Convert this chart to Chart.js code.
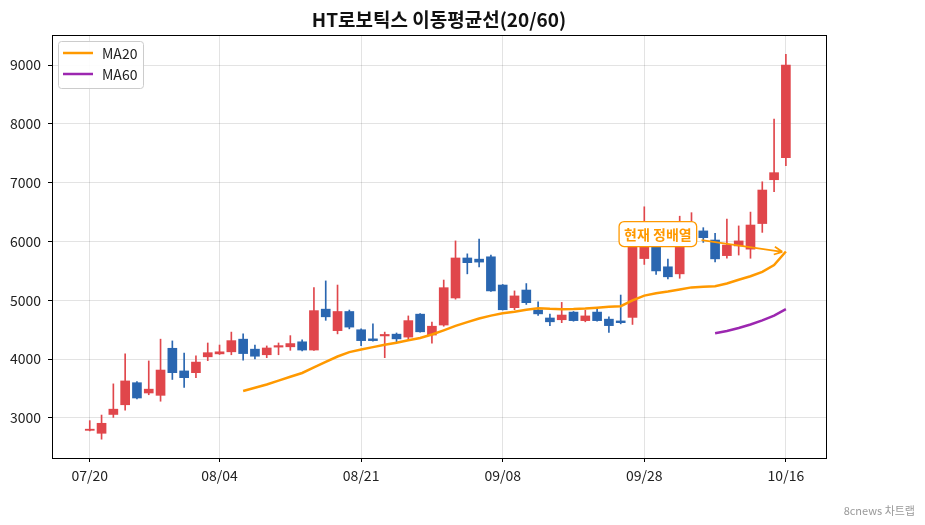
<!DOCTYPE html>
<html>
<head>
<meta charset="utf-8">
<script src="https://cdn.jsdelivr.net/npm/chart.js@4"></script>
<style>
  body { margin: 0; background: #fff; }
  #wrap { position: relative; width: 925px; height: 525px; }
  #credit { position: absolute; right: 10px; top: 502px; font: 11px "Noto Sans CJK KR", sans-serif; color: #999; }
</style>
</head>
<body>
<div id="wrap">
  <canvas id="chart" width="925" height="525"></canvas>
  <div id="credit">8cnews 차트랩</div>
</div>
<script>
const titleText = "HT로보틱스 이동평균선(20/60)";

// candles (one per trading day, index 0 = 07/20)
const opens  = [2790, 2740, 3060, 3225, 3600, 3425, 3385, 4185, 3800, 3770,
                4040, 4090, 4125, 4340, 4170, 4075, 4205, 4210, 4295, 4155,
                4850, 4485, 4810, 4500, 4345, 4395, 4425, 4375, 4765, 4410,
                4580, 5040, 5720, 5700, 5740, 5260, 4875, 5175, 4835, 4700,
                4670, 4800, 4655, 4800, 4680, 4650, 4710, 5710, 6000, 5570,
                5450, 6000, 6180, 6025, 5760, 5925, 5870, 6305, 7050, 7425];
const highs  = [2955, 3050, 3580, 4090, 3620, 3970, 4340, 4310, 4105, 4055,
                4275, 4240, 4460, 4430, 4240, 4225, 4275, 4400, 4330, 5215,
                5330, 5260, 4835, 4515, 4600, 4460, 4445, 4735, 4775, 4630,
                5345, 6010, 5790, 6040, 5770, 5270, 5160, 5285, 4975, 4765,
                4965, 4810, 4830, 4845, 4720, 5090, 6000, 6590, 6050, 5700,
                6430, 6490, 6235, 6140, 6380, 6265, 6500, 7015, 8080, 9180];
const lows   = [2780, 2640, 3010, 3135, 3325, 3395, 3285, 3655, 3520, 3685,
                3975, 4080, 4075, 3985, 4005, 4025, 4075, 4150, 4140, 4150,
                4660, 4430, 4515, 4230, 4305, 4025, 4290, 4325, 4460, 4270,
                4560, 5020, 5450, 5570, 5150, 4835, 4840, 4930, 4745, 4570,
                4620, 4645, 4635, 4645, 4455, 4600, 4590, 5610, 5440, 5365,
                5375, 5970, 5985, 5655, 5715, 5770, 5715, 6155, 6845, 7290];
const closes = [2810, 2910, 3150, 3630, 3340, 3490, 3815, 3770, 3685, 3950,
                4110, 4125, 4315, 4095, 4050, 4190, 4230, 4265, 4155, 4825,
                4720, 4810, 4545, 4315, 4315, 4420, 4345, 4655, 4465, 4560,
                5215, 5720, 5640, 5650, 5160, 4840, 5075, 4960, 4770, 4635,
                4750, 4655, 4735, 4655, 4570, 4620, 5950, 6010, 5500, 5400,
                6000, 6200, 6065, 5705, 5940, 6010, 6280, 6875, 7170, 9000];

// moving averages, null where not drawn
const ma20 = [null, null, null, null, null, null, null, null, null, null,
              null, null, null, 3460, 3515, 3570, 3635, 3700, 3765, 3860,
              3955, 4045, 4120, 4165, 4205, 4245, 4280, 4320, 4360, 4420,
              4490, 4565, 4630, 4690, 4740, 4780, 4805, 4840, 4865, 4855,
              4850, 4852, 4860, 4875, 4890, 4900, 5000, 5080, 5120, 5150,
              5185, 5220, 5230, 5240, 5285, 5350, 5410, 5485, 5600, 5830];
const ma60 = [null, null, null, null, null, null, null, null, null, null,
              null, null, null, null, null, null, null, null, null, null,
              null, null, null, null, null, null, null, null, null, null,
              null, null, null, null, null, null, null, null, null, null,
              null, null, null, null, null, null, null, null, null, null,
              null, null, null, 4440, 4480, 4530, 4590, 4660, 4740, 4850];

const xTickPos = [0, 11, 23, 35, 47, 59];
const xTickLabels = ["07/20", "08/04", "08/21", "09/08", "09/28", "10/16"];
const yTicks = [3000, 4000, 5000, 6000, 7000, 8000, 9000];

const noteText = "현재 정배열";
const noteAt = { x: 48.15, y: 6127 };
const arrowFrom = { x: 51.85, y: 6025 };
const arrowTo = { x: 58.7, y: 5825 };

const UP = "#e0464b", DOWN = "#2a66b0", ORANGE = "#ff9900", PURPLE = "#9c27b0";
const FONT = '"Noto Sans CJK KR", "Noto Sans", sans-serif';

const idx = closes.map((_, i) => i);
const candleColors = idx.map(i => closes[i] >= opens[i] ? UP : DOWN);

const frameAndText = {
    id: "frameAndText",
    afterDatasetsDraw(chart) {
        const { ctx, chartArea: a, scales } = chart;
        ctx.save();
        // plot frame
        ctx.strokeStyle = "#000";
        ctx.lineWidth = 1;
        ctx.strokeRect(a.left + 0.5, a.top + 0.5, a.right - a.left, a.bottom - a.top);

        // title
        ctx.fillStyle = "#111";
        ctx.font = "bold 19px " + FONT;
        ctx.textAlign = "center";
        ctx.textBaseline = "middle";
        ctx.fillText(titleText, (a.left + a.right) / 2, 20);

        // legend
        ctx.fillStyle = "rgba(255,255,255,0.9)";
        ctx.strokeStyle = "#ccc";
        ctx.beginPath();
        ctx.roundRect(58.5, 41.5, 85, 47, 3);
        ctx.fill();
        ctx.stroke();
        const items = [["MA20", ORANGE, 53], ["MA60", PURPLE, 74]];
        ctx.font = "14px " + FONT;
        ctx.textAlign = "left";
        items.forEach(([label, color, y]) => {
            ctx.strokeStyle = color;
            ctx.lineWidth = 2.5;
            ctx.beginPath();
            ctx.moveTo(63, y);
            ctx.lineTo(93, y);
            ctx.stroke();
            ctx.fillStyle = "#222";
            ctx.fillText(label, 102, y + 1);
        });

        // annotation arrow
        const x = scales.x, y = scales.y;
        const x1 = x.getPixelForValue(arrowFrom.x), y1 = y.getPixelForValue(arrowFrom.y);
        const x2 = x.getPixelForValue(arrowTo.x), y2 = y.getPixelForValue(arrowTo.y);
        ctx.strokeStyle = ORANGE;
        ctx.lineWidth = 1.8;
        ctx.beginPath();
        ctx.moveTo(x1, y1);
        ctx.lineTo(x2, y2);
        const ang = Math.atan2(y2 - y1, x2 - x1);
        for (const s of [-1, 1]) {
            ctx.moveTo(x2, y2);
            ctx.lineTo(x2 - 9 * Math.cos(ang + s * 0.45), y2 - 9 * Math.sin(ang + s * 0.45));
        }
        ctx.stroke();

        // annotation label
        const cx = x.getPixelForValue(noteAt.x), cy = y.getPixelForValue(noteAt.y);
        ctx.font = "bold 14px " + FONT;
        const w = ctx.measureText(noteText).width + 10;
        ctx.fillStyle = "#fff";
        ctx.strokeStyle = ORANGE;
        ctx.lineWidth = 1.3;
        ctx.beginPath();
        ctx.roundRect(cx - w / 2, cy - 12.5, w, 25, 5);
        ctx.fill();
        ctx.stroke();
        ctx.fillStyle = ORANGE;
        ctx.textAlign = "center";
        ctx.textBaseline = "middle";
        ctx.fillText(noteText, cx, cy + 1);
        ctx.restore();
    }
};

new Chart(document.getElementById("chart"), {
    type: "bar",
    data: {
        datasets: [
            {
                label: "MA20", type: "line", order: 0,
                data: idx.map(i => ({ x: i, y: ma20[i] })),
                borderColor: ORANGE, borderWidth: 2.5, pointRadius: 0, spanGaps: false
            },
            {
                label: "MA60", type: "line", order: 0,
                data: idx.map(i => ({ x: i, y: ma60[i] })),
                borderColor: PURPLE, borderWidth: 2.5, pointRadius: 0, spanGaps: false
            },
            {
                label: "body", order: 1, grouped: false, barThickness: 9,
                data: idx.map(i => ({ x: i, y: [opens[i], closes[i]] })),
                backgroundColor: candleColors, borderWidth: 0
            },
            {
                label: "wick", order: 2, grouped: false, barThickness: 1,
                data: idx.map(i => ({ x: i, y: [lows[i], highs[i]] })),
                backgroundColor: candleColors, borderWidth: 0
            }
        ]
    },
    options: {
        responsive: false,
        animation: false,
        layout: { padding: { top: 35, right: 99, bottom: 37, left: 0 } },
        plugins: { legend: { display: false }, tooltip: { enabled: false }, title: { display: false } },
        scales: {
            x: {
                type: "linear", offset: false, min: -3.2, max: 62.4,
                afterFit: s => { s.height = 30; },
                afterBuildTicks: s => { s.ticks = xTickPos.map(v => ({ value: v })); },
                ticks: {
                    callback: v => xTickLabels[xTickPos.indexOf(v)] || "",
                    color: "#222", font: { family: FONT, size: 14 }, padding: 5,
                    maxRotation: 0, autoSkip: false
                },
                grid: { offset: false, color: "rgba(0,0,0,0.11)", tickColor: "#000", tickLength: 4 },
                border: { color: "#000", width: 1 }
            },
            y: {
                min: 2320, max: 9510,
                afterFit: s => { s.width = 52; },
                afterBuildTicks: s => { s.ticks = yTicks.map(v => ({ value: v })); },
                ticks: { callback: v => String(v), color: "#222", font: { family: FONT, size: 14 }, padding: 7 },
                grid: { color: "rgba(0,0,0,0.11)", tickColor: "#000", tickLength: 4 },
                border: { color: "#000", width: 1 }
            }
        }
    },
    plugins: [frameAndText]
});
</script>
</body>
</html>
